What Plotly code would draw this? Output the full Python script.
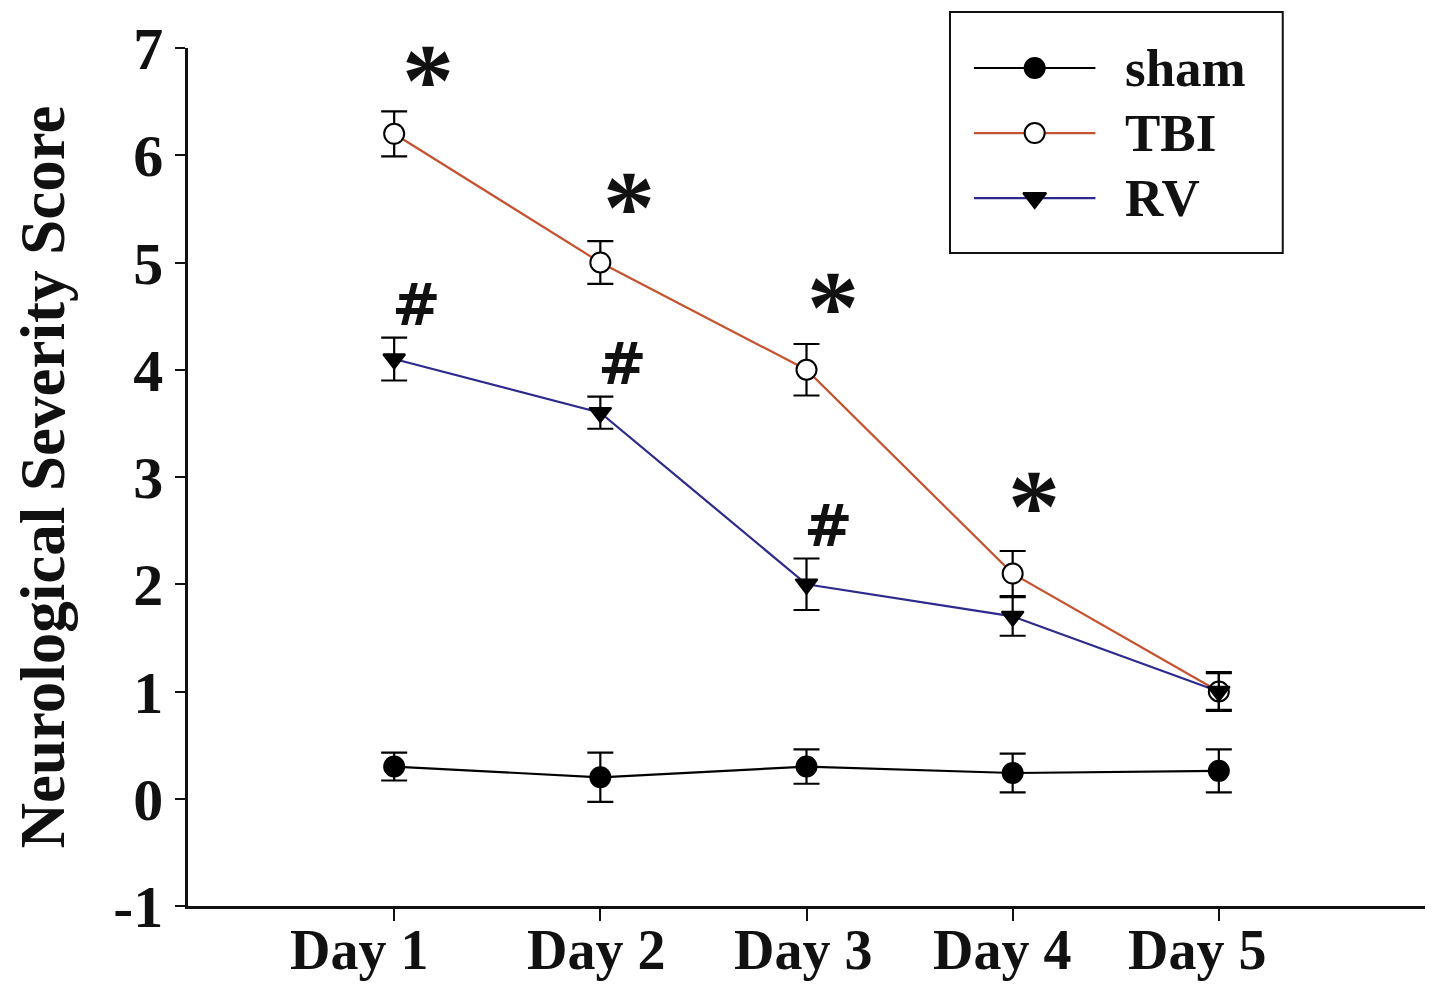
import plotly.graph_objects as go

# Data
days = [1, 2, 3, 4, 5]
day_labels = ['Day 1', 'Day 2', 'Day 3', 'Day 4', 'Day 5']

sham_mean = [0.30, 0.20, 0.30, 0.24, 0.26]
sham_err = [0.13, 0.23, 0.16, 0.18, 0.20]

tbi_mean = [6.20, 5.00, 4.00, 2.10, 1.00]
tbi_err = [0.21, 0.20, 0.24, 0.21, 0.18]

rv_mean = [4.10, 3.60, 2.00, 1.70, 1.00]
rv_err = [0.20, 0.15, 0.24, 0.18, 0.17]

y_ticks = [-1, 0, 1, 2, 3, 4, 5, 6, 7]

# days carrying significance marks (index into days)
star_days = [0, 1, 2, 3]
hash_days = [0, 1, 2]

font_family = 'Liberation Serif, Times New Roman, serif'
tbi_color = '#c5532f'
rv_color = '#2c2a8c'

# hand placement in the original: label and star offsets (px)
label_nudge = [-35, -4, -4, -11, -22]
star_dx = [34, 29, 26, 21]
star_dy = [-28, -25, -22, -14]

fig = go.Figure()

def add_series(mean, err, color, symbol, fill, size):
    fig.add_trace(go.Scatter(
        x=days, y=mean,
        mode='lines+markers',
        line=dict(color=color, width=2.2),
        marker=dict(symbol=symbol, size=size, color=fill,
                    line=dict(color='black', width=2)),
        error_y=dict(type='data', array=err, visible=True,
                     color='black', thickness=2.2, width=13),
        cliponaxis=False,
        showlegend=False,
    ))

add_series(sham_mean, sham_err, 'black', 'circle', 'black', 20)
add_series(tbi_mean, tbi_err, tbi_color, 'circle', 'white', 20)
add_series(rv_mean, rv_err, rv_color, 'triangle-down', 'black', 19)

# significance annotations
for i in star_days:
    fig.add_annotation(x=days[i], y=tbi_mean[i] + tbi_err[i], text='<b>*</b>',
                       showarrow=False, xshift=star_dx[i], yshift=star_dy[i],
                       yanchor='bottom', font=dict(family=font_family, size=104, color='#111'))
for i in hash_days:
    fig.add_annotation(x=days[i], y=rv_mean[i] + rv_err[i], text='<b>#</b>',
                       showarrow=False, xshift=22, yshift=-3,
                       yanchor='bottom', font=dict(family='DejaVu Serif', size=58, color='#111'))

# x tick labels
for d, lab, dx in zip(days, day_labels, label_nudge):
    fig.add_annotation(x=d, y=0, xref='x', yref='paper', text=f'<b>{lab}</b>',
                       showarrow=False, xshift=dx, yshift=-11, yanchor='top',
                       font=dict(family=font_family, size=56, color='#111'))

# hand-drawn legend in its own small axes
legend_names = ['sham', 'TBI', 'RV']
legend_colors = ['black', tbi_color, rv_color]
legend_symbols = ['circle', 'circle', 'triangle-down']
legend_fills = ['black', 'white', 'black']
legend_rows = [185, 120, 55]
for name, col, sym, fill, row in zip(legend_names, legend_colors, legend_symbols,
                                     legend_fills, legend_rows):
    fig.add_trace(go.Scatter(
        x=[24, 146], y=[row, row], xaxis='x2', yaxis='y2',
        mode='lines', line=dict(color=col, width=2.2),
        showlegend=False, hoverinfo='skip',
    ))
    fig.add_trace(go.Scatter(
        x=[85], y=[row], xaxis='x2', yaxis='y2',
        mode='markers',
        marker=dict(symbol=sym, size=20, color=fill, line=dict(color='black', width=2)),
        showlegend=False, hoverinfo='skip',
    ))
    fig.add_annotation(x=174, y=row, xref='x2', yref='y2', text=f'<b>{name}</b>',
                       showarrow=False, xanchor='left', yanchor='middle',
                       font=dict(family=font_family, size=53, color='#111'))

fig.add_shape(type='rect', xref='paper', yref='paper',
              x0=0.616, x1=0.885, y0=0.761, y1=1.042,
              line=dict(color='#111', width=2))

# page body adds an 8px margin, so the figure is 16px smaller and sits at (8, 8)
fig.update_layout(
    width=1425, height=978,
    margin=dict(l=177, r=8, t=40, b=80),
    plot_bgcolor='white', paper_bgcolor='white',
    font=dict(family=font_family, color='#111'),
    xaxis=dict(range=[0, 6], tickvals=days, showticklabels=False,
               showgrid=False, zeroline=False,
               showline=True, linecolor='#111', linewidth=2.5,
               ticks='outside', ticklen=12, tickwidth=2, tickcolor='#111'),
    yaxis=dict(range=[-1, 7], tickvals=y_ticks, ticktext=[f'<b>{t}</b>' for t in y_ticks],
               tickfont=dict(size=60, color='#111'),
               showgrid=False, zeroline=False,
               showline=True, linecolor='#111', linewidth=2.5,
               ticks='outside', ticklen=10, tickwidth=2, tickcolor='#111',
               title=dict(text='<b>Neurological Severity Score</b>',
                          font=dict(size=63, color='#111'), standoff=53)),
    xaxis2=dict(domain=[0.616, 0.885], range=[0, 334], visible=False, fixedrange=True),
    yaxis2=dict(domain=[0.761, 1.0], range=[0, 205], visible=False, fixedrange=True),
)

fig.write_html('out.html')
